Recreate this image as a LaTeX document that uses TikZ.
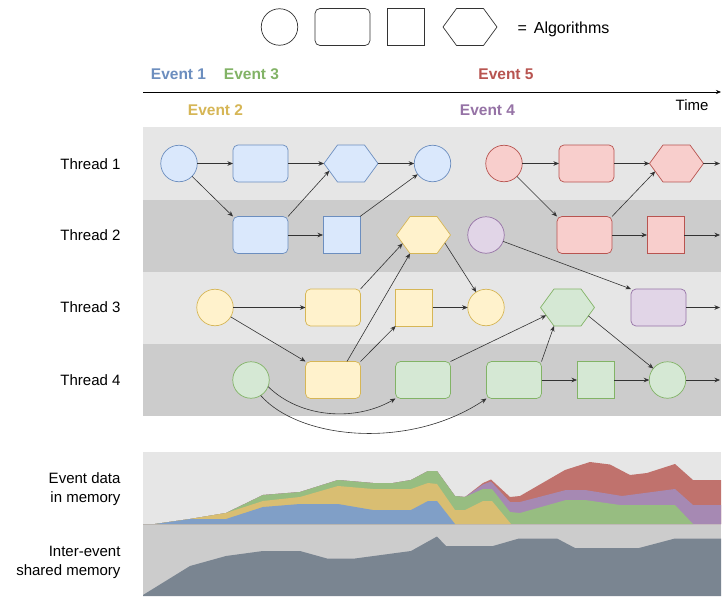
\documentclass[tikz,border=0pt]{standalone}
\usepackage{fontspec}
\setmainfont{Liberation Sans}
\usetikzlibrary{arrows.meta,shapes.geometric,calc}

\definecolor{bandA}{HTML}{E6E6E6}
\definecolor{bandB}{HTML}{CCCCCC}
\definecolor{bF}{HTML}{DAE8FC}\definecolor{bS}{HTML}{6C8EBF}
\definecolor{yF}{HTML}{FFF2CC}\definecolor{yS}{HTML}{D6B656}
\definecolor{gF}{HTML}{D5E8D4}\definecolor{gS}{HTML}{82B366}
\definecolor{rF}{HTML}{F8CECC}\definecolor{rS}{HTML}{B85450}
\definecolor{pF}{HTML}{E1D5E7}\definecolor{pS}{HTML}{9673A6}
\definecolor{cB}{HTML}{809FC7}
\definecolor{cY}{HTML}{D9BE72}
\definecolor{cG}{HTML}{97BD81}
\definecolor{cP}{HTML}{A689B3}
\definecolor{cR}{HTML}{C0726D}
\definecolor{cS}{HTML}{7A8591}
\definecolor{lineC}{HTML}{333333}

\tikzset{
  base/.style={line width=0.7pt, inner sep=0pt, outer sep=0pt},
  circ/.style={base, circle, minimum size=36.5pt},
  rrect/.style={base, rectangle, rounded corners=5pt, minimum width=55pt, minimum height=37pt},
  sq/.style={base, rectangle, minimum size=37pt},
  hexa/.style={base, regular polygon, regular polygon sides=6, minimum size=42.7pt, transform shape},
  E1/.style={fill=bF, draw=bS},
  E2/.style={fill=yF, draw=yS},
  E3/.style={fill=gF, draw=gS},
  E4/.style={fill=pF, draw=pS},
  E5/.style={fill=rF, draw=rS},
  legendshape/.style={fill=white, draw=lineC},
  arr/.style={draw=lineC, line width=0.6pt, -{Stealth[length=5.5pt,width=4.5pt]}},
  lbl/.style={font=\fontsize{15}{19}\selectfont},
  evl/.style={font=\fontsize{15.5}{18}\selectfont\bfseries, anchor=base},
}

\newcommand{\hexat}[3]{\begin{scope}[shift={(#2,#3)},xscale=1.264]\node[hexa,#1] at (0,0) {};\end{scope}}

\begin{document}
\begin{tikzpicture}[x=1pt,y=-1pt]
\useasboundingbox (0,0) rectangle (724,605);
\fill[white] (0,0) rectangle (724,605);

% legend
\node[circ, legendshape] (lc) at (279.5,27) {};
\node[rrect, legendshape] (lr) at (342.5,27) {};
\node[sq, legendshape] (ls) at (405.5,27) {};
\hexat{name=lh, legendshape}{470}{27}
\node[anchor=base west, font=\fontsize{16}{19}\selectfont] (alg) at (514,33) {=\hspace{7pt}Algorithms};

% time axis
\coordinate (t0) at (143,92);
\coordinate (t1) at (721,92);
\draw[draw=black, line width=0.6pt, -{Stealth[length=5pt,width=4pt]}] (t0) -- (t1);
\node[lbl, anchor=base east] (time) at (712,110.5) {Time};

% events
\node[evl, text=bS] (e1) at (178.5,79.5) {Event 1};
\node[evl, text=gS] (e3) at (251.5,79.5) {Event 3};
\node[evl, text=rS] (e5) at (506,79.5) {Event 5};
\node[evl, text=yS] (e2) at (215.5,115.5) {Event 2};
\node[evl, text=pS] (e4) at (487.5,115.5) {Event 4};

% thread bands
\fill[bandA] (143,127) rectangle (721,200);
\fill[bandB] (143,200) rectangle (721,272);
\fill[bandA] (143,272) rectangle (721,344);
\fill[bandB] (143,344) rectangle (721,416);

\node[lbl, anchor=base east] (th1) at (124,169) {Thread 1};
\node[lbl, anchor=base east] (th2) at (124,240.4) {Thread 2};
\node[lbl, anchor=base east] (th3) at (124,312.9) {Thread 3};
\node[lbl, anchor=base east] (th4) at (124,385.4) {Thread 4};

% Thread 1
\node[circ,E1] (b1) at (179,163.5) {};
\node[rrect,E1] (b2) at (260.5,163.5) {};
\hexat{name=b3,E1}{351}{163.5}
\node[circ,E1] (b4) at (432.5,163.5) {};
\node[circ,E5] (r1) at (504,163.5) {};
\node[rrect,E5] (r2) at (586.5,163.5) {};
\hexat{name=r3,E5}{676.5}{163.5}
\coordinate (o1) at (720,163.5);

% Thread 2
\node[rrect,E1] (b5) at (260.5,235) {};
\node[sq,E1] (b6) at (341.5,235) {};
\hexat{name=y1,E2}{423.5}{235}
\node[circ,E4] (p1) at (486,235) {};
\node[rrect,E5] (r4) at (584.5,235) {};
\node[sq,E5] (r5) at (665.5,235) {};
\coordinate (o2) at (720,235);

% Thread 3
\node[circ,E2] (y2) at (215,307.5) {};
\node[rrect,E2] (y3) at (333,307.5) {};
\node[sq,E2] (y4) at (414,307.5) {};
\node[circ,E2] (y5) at (486,307.5) {};
\hexat{name=g1,E3}{567.5}{307.5}
\node[rrect,E4] (p2) at (658.5,307.5) {};
\coordinate (o3) at (720,307.5);

% Thread 4
\node[circ,E3] (g2) at (251,380) {};
\node[rrect,E2] (y6) at (333,380) {};
\node[rrect,E3] (g3) at (423,380) {};
\node[rrect,E3] (g4) at (514,380) {};
\node[sq,E3] (g5) at (595.5,380) {};
\node[circ,E3] (g6) at (667.5,380) {};
\coordinate (o4) at (720,380);

% connectors
\draw[arr] (b1) -- (b2);
\draw[arr] (b2) -- (b3);
\draw[arr] (b3) -- (b4);
\draw[arr] (b1) -- (b5.north west);
\draw[arr] (b5.north east) -- (b3.203);
\draw[arr] (b5) -- (b6);
\draw[arr] (b6.north east) -- (b4);
\draw[arr] (r1) -- (r2);
\draw[arr] (r2) -- (r3);
\draw[arr] (r3) -- (o1);
\draw[arr] (r1) -- (r4.north west);
\draw[arr] (r4.north east) -- (r3.205);
\draw[arr] (r4) -- (r5);
\draw[arr] (r5) -- (o2);
\draw[arr] (p1) -- (p2.north west);
\draw[arr] (p2) -- (o3);
\draw[arr] (y2) -- (y3);
\draw[arr] (y2) -- (y6.north west);
\draw[arr] (y3.north east) -- (y1.207);
\draw[arr] ([xshift=14pt]y6.north) -- (y1.240);
\draw[arr] (y6.north east) -- (y4);
\draw[arr] (y4) -- (y5);
\draw[arr] (y1.335) -- (y5);
\draw[arr] (g2.-21) .. controls (300,418) and (355,422) .. (g3.south west);
\draw[arr] (g2.-58) .. controls (300,440) and (410,450) .. (g4.south west);
\draw[arr] (g3.north east) -- (g1.205);
\draw[arr] (g4.north east) -- (g1.240);
\draw[arr] (g4) -- (g5);
\draw[arr] (g5) -- (g6);
\draw[arr] (g6) -- (o4);
\draw[arr] (g1.333) -- (g6);

% memory charts
\fill[bandA] (143,452) rectangle (721,524);
\fill[bandB] (143,524) rectangle (721,596);

\fill[cR] (143,524) -- (155,524) -- (190,519) -- (226,513) -- (263,495) -- (300,492) -- (338,480) -- (373,483) -- (393,483) -- (411,480) -- (428,471) -- (437,471) -- (455,496) -- (465,497) -- (483,483) -- (491,479.5) -- (510,497) -- (520,496) -- (565,470) -- (590,462) -- (610,464.5) -- (630,475) -- (647,473) -- (675,464) -- (693,480) -- (721,480) -- (721,524) -- cycle;
\fill[cP] (143,524) -- (155,524) -- (190,519) -- (226,513) -- (263,495) -- (300,492) -- (338,480) -- (373,483) -- (393,483) -- (411,480) -- (428,471) -- (437,471) -- (455,496) -- (465,497) -- (483,484.5) -- (491,481.5) -- (510,502) -- (520,502) -- (566,490) -- (585,490) -- (622,496) -- (675,489) -- (693,505) -- (721,505) -- (721,524) -- cycle;
\fill[cG] (143,524) -- (155,524) -- (190,519) -- (226,513) -- (263,495) -- (300,492) -- (338,480) -- (373,483) -- (393,483) -- (411,480) -- (428,471) -- (437,471) -- (455,496) -- (465,497) -- (483,489) -- (492,489) -- (510,512) -- (520,513) -- (566,500) -- (585,500) -- (620,505) -- (675,505) -- (693,524) -- cycle;
\fill[cY] (143,524) -- (155,524) -- (190,519) -- (226,513) -- (263,501) -- (300,497) -- (338,486) -- (373,489) -- (411,489) -- (428,483) -- (437,484) -- (455,510) -- (465,510) -- (483,501) -- (492,501) -- (511,524) -- cycle;
\fill[cB] (143,524) -- (155,524) -- (190,519) -- (226,519) -- (263,507) -- (300,504) -- (338,504) -- (373,510) -- (411,510) -- (428,501) -- (437,501) -- (455,524) -- cycle;
\fill[cS] (143,596) -- (143,595) -- (190,566) -- (226,556) -- (263,551) -- (300,551) -- (327,558.5) -- (355,558.5) -- (411,551) -- (437,536.5) -- (446,546) -- (493,546) -- (519,538.5) -- (557,538.5) -- (575,548) -- (639,548) -- (675,538.5) -- (721,538.5) -- (721,596) -- cycle;

\node[lbl, anchor=east, align=right] (m1) at (124,489) {Event data\\in memory};
\node[lbl, anchor=east, align=right] (m2) at (124,562) {Inter-event\\shared memory};
\end{tikzpicture}
\end{document}
